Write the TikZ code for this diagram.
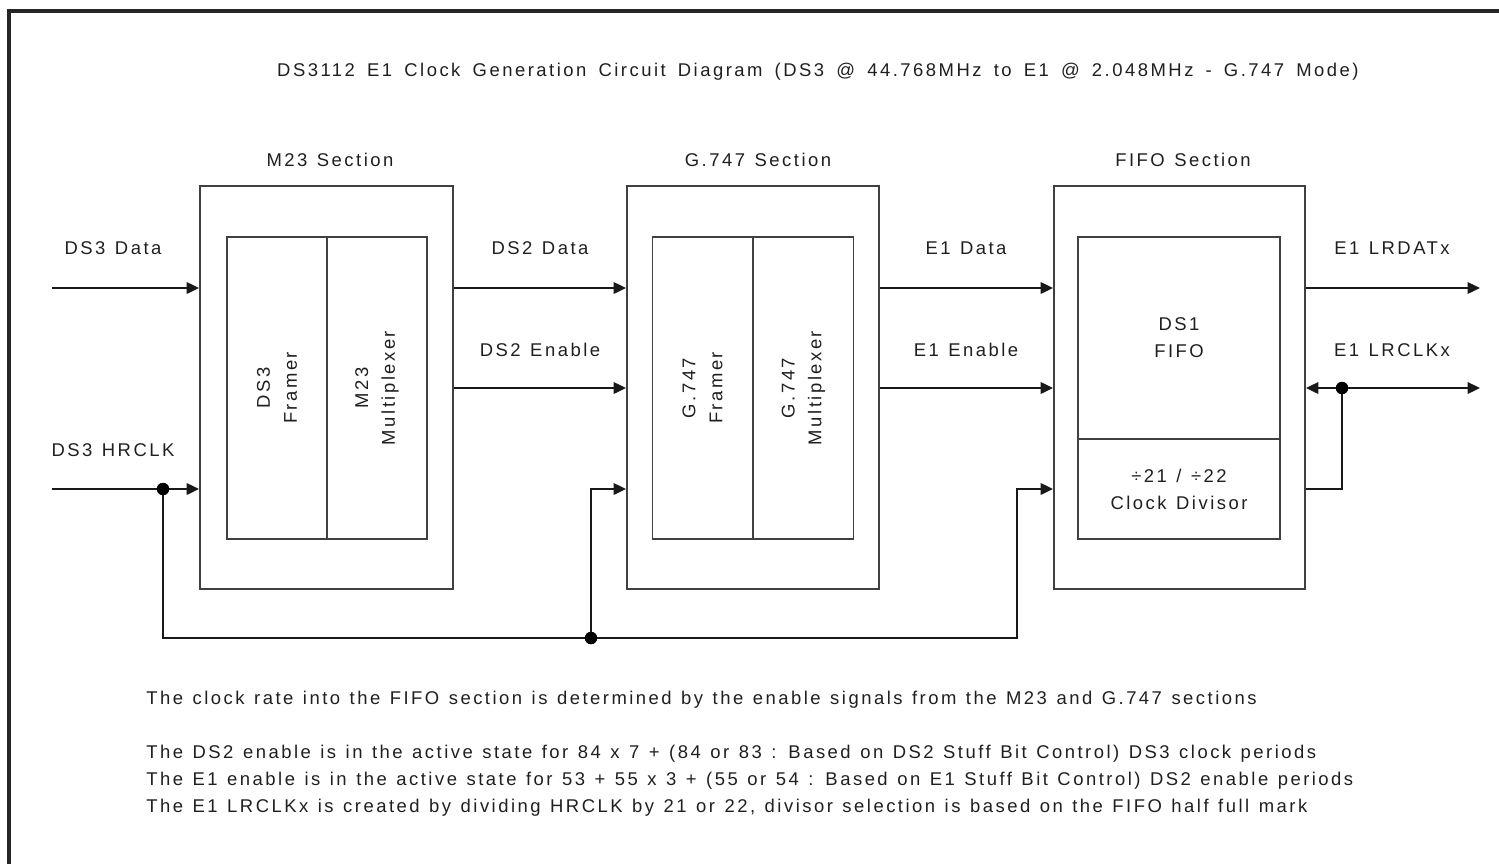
\documentclass[tikz,border=0pt]{standalone}
\usepackage{fontspec}
\setmainfont{Liberation Sans}[LetterSpace=13.5, WordSpace=1.25]
\newfontfamily\titlefont{Liberation Sans}[LetterSpace=13.5, WordSpace=1.6]
\usetikzlibrary{arrows.meta}
\def\u{0.02cm}
\tikzset{
  txt/.style={text=black!88, font=\fontsize{10.5}{15.3}\selectfont, inner sep=0pt, align=center},
  outerbox/.style={draw=black!75, line width=1.1pt, fill=white, minimum width=#1*\u, minimum height=403*\u, inner sep=0pt},
  vbox/.style={draw=black!75, line width=1.1pt, rotate=90, minimum width=302*\u, minimum height=100*\u, inner sep=0pt, txt},
  hbox/.style={draw=black!75, line width=1.1pt, minimum width=202*\u, minimum height=#1*\u, inner sep=0pt, txt},
  wire/.style={draw=black!90, line width=1.1pt},
  arr/.style={wire, -{Triangle[length=7pt, width=6.5pt]}},
  dot/.style={circle, fill=black, inner sep=0pt, minimum size=7pt},
}
\begin{document}
\begin{tikzpicture}[x=\u, y=-\u]
\useasboundingbox (0,0) rectangle (1499,863);
\clip (0,0) rectangle (1499,863);
\draw[line width=2pt, black!85] (9,11) rectangle (1520,880);

\node[txt, font=\titlefont\fontsize{10.5}{15.3}\selectfont] (title) at (818,72) {DS3112 E1 Clock Generation Circuit Diagram (DS3 @ 44.768MHz to E1 @ 2.048MHz - G.747 Mode)};

% sections
\node[outerbox=253] (m23) at (326.5,387.5) {};
\node[outerbox=252] (g747) at (753,387.5) {};
\node[outerbox=251] (fifo) at (1179.5,387.5) {};
\node[txt] (m23lbl) at (330,160) {M23 Section};
\node[txt] (g747lbl) at (758,160) {G.747 Section};
\node[txt] (fifolbl) at (1183,160) {FIFO Section};

\node[vbox] (ds3fr) at (277,388) {DS3\\Framer};
\node[vbox] (m23mx) at (377,388) {M23\\Multiplexer};
\node[vbox] (g7fr) at (702.5,388) {G.747\\Framer};
\node[vbox] (g7mx) at (803.5,388) {G.747\\Multiplexer};
\node[hbox=202] (ds1) at (1179,338) {DS1\\FIFO};
\node[hbox=100] (div) at (1179,489) {÷21 / ÷22\\Clock Divisor};

% signal labels
\node[txt] (l1) at (113,248) {DS3 Data};
\node[txt] (l2) at (113,450) {DS3 HRCLK};
\node[txt] (l3) at (540,248) {DS2 Data};
\node[txt] (l4) at (540,350) {DS2 Enable};
\node[txt] (l5) at (966,248) {E1 Data};
\node[txt] (l6) at (966,350) {E1 Enable};
\node[txt] (l7) at (1392,248) {E1 LRDATx};
\node[txt] (l8) at (1392,350) {E1 LRCLKx};

% wires
\coordinate (ds3in) at (52,288);
\coordinate (hrin) at (52,489);
\coordinate (datout) at (1480,288);
\coordinate (clkout) at (1480,388);
\coordinate (k2) at (591,489);
\coordinate (k1) at (1017,489);
\coordinate (k3) at (1342,489);
\node[dot] (j1) at (163,489) {};
\node[dot] (j2) at (591,638) {};
\node[dot] (j3) at (1342,388) {};

\draw[arr] (ds3in) -- (ds3in -| m23.west);
\draw[wire] (hrin) -- (j1.center);
\draw[arr] (j1.center) -- (j1 -| m23.west);
\draw[wire] (j1.center) |- (j2.center);
\draw[arr] (j2.center) -- (k2) -- (k2 -| g747.west);
\draw[arr] (j2.center) -| (k1) -- (k1 -| fifo.west);

\draw[arr] (m23.east |- ds3in) -- (g747.west |- ds3in);
\draw[arr] (m23.east |- j3) -- (g747.west |- j3);
\draw[arr] (g747.east |- ds3in) -- (fifo.west |- ds3in);
\draw[arr] (g747.east |- j3) -- (fifo.west |- j3);
\draw[arr] (fifo.east |- datout) -- (datout);
\draw[arr] (j3.center) -- (clkout);
\draw[arr] (j3.center) -- (j3 -| fifo.east);
\draw[wire] (j3.center) -- (k3) -- (k3 -| fifo.east);

\node[dot] at (j1) {};
\node[dot] at (j2) {};
\node[dot] at (j3) {};

% notes
\node[txt, anchor=west] (n1) at (146,700) {The clock rate into the FIFO section is determined by the enable signals from the M23 and G.747 sections};
\node[txt, anchor=west] (n2) at (146,754) {The DS2 enable is in the active state for 84 x 7 + (84 or 83 : Based on DS2 Stuff Bit Control) DS3 clock periods};
\node[txt, anchor=west] (n3) at (146,781) {The E1 enable is in the active state for 53 + 55 x 3 + (55 or 54 : Based on E1 Stuff Bit Control) DS2 enable periods};
\node[txt, anchor=west] (n4) at (146,808) {The E1 LRCLKx is created by dividing HRCLK by 21 or 22, divisor selection is based on the FIFO half full mark};
\end{tikzpicture}
\end{document}
